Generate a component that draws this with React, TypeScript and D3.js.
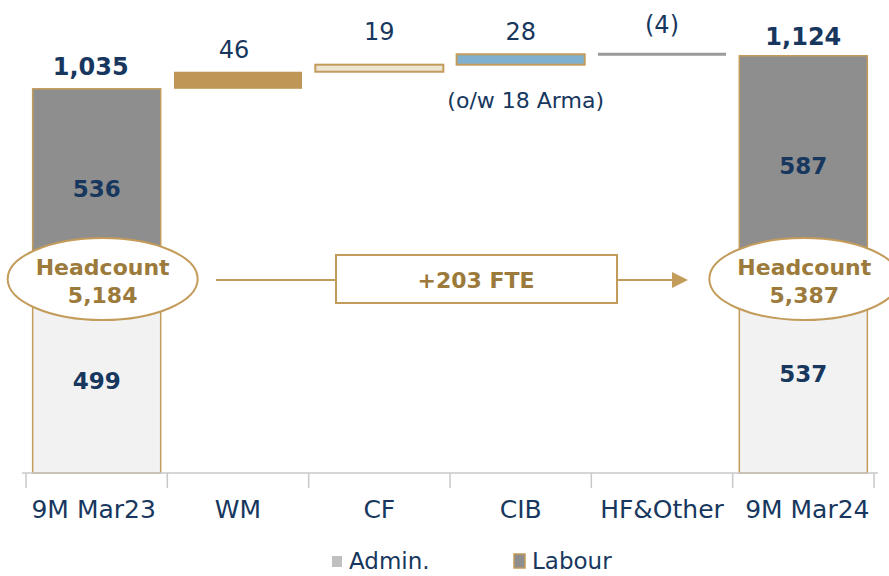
import React from "react";
import * as d3 from "d3";

const categories = ["9M Mar23", "WM", "CF", "CIB", "HF&Other", "9M Mar24"];
const adminValues = [499, 0, 0, 0, 0, 537];
const labourValues = [536, 0, 0, 0, 0, 587];
const deltaValues = [0, 46, 19, 28, -4, 0];
const totalLabels = ["1,035", "46", "19", "28", "(4)", "1,124"];
const headcountStart = "5,184";
const headcountEnd = "5,387";
const fteLabel = "+203 FTE";
const cibNote = "(o/w 18 Arma)";
const legendItems = ["Admin.", "Labour"];

const W = 889;
const H = 576;
const NAVY = "#17375e";
const GOLD = "#c39b5a";
const GOLD_TEXT = "#9b7a3b";
const FONT = "'DejaVu Sans', sans-serif";

export default function App() {
  const x = d3.scaleBand<string>().domain(categories).range([26, 874]).paddingInner(0.094).paddingOuter(0.047);
  const y = d3.scaleLinear().domain([0, 1250]).range([473, 9]);
  const bw = x.bandwidth();
  const step = x.step();

  let running = adminValues[0] + labourValues[0];
  const deltas = deltaValues.map((d, i) => {
    if (i === 0 || i === categories.length - 1) return null;
    const start = running;
    running += d;
    return { start, end: running, d, i };
  });

  const deltaFill = [null, "#bf9656", "#ebe5d2", "#7fb0cf", "#9a9a9a", null];
  const labelLift = [0, 0, 11, 0, 7, -3];
  const labelShift = [-6, -4, 0, 0, 0, 0];

  const cx = (i: number) => (x(categories[i]) as number) + bw / 2;
  const tickXs = categories.map((c) => (x(c) as number) - (step - bw) / 2).concat([874]);
  const yMid = 280;

  return (
    <svg width={W} height={H} style={{ position: "absolute", left: 0, top: 0 }} fontFamily={FONT}>
      <rect width={W} height={H} fill="#fff" />
      {[0, categories.length - 1].map((i) => {
        const a = adminValues[i];
        const l = labourValues[i];
        const x0 = x(categories[i]) as number;
        return (
          <g key={"t" + i}>
            <rect x={x0} y={y(a)} width={bw} height={y(0) - y(a)} fill="#f2f2f2" stroke={GOLD} strokeWidth={1.5} />
            <rect x={x0} y={y(a + l)} width={bw} height={y(a) - y(a + l)} fill="#8e8e8e" stroke={GOLD} strokeWidth={1.5} />
            <text x={cx(i)} y={(y(a + l) + y(a)) / 2 + 9} textAnchor="middle" fontSize={23} fontWeight="bold" fill={NAVY}>{l}</text>
            <text x={cx(i)} y={(y(a) + y(0)) / 2 + 9} textAnchor="middle" fontSize={23} fontWeight="bold" fill={NAVY}>{a}</text>
            <text x={cx(i) + labelShift[i]} y={y(a + l) - 14 - labelLift[i]} textAnchor="middle" fontSize={24} fontWeight="bold" fill={NAVY}>{totalLabels[i]}</text>
          </g>
        );
      })}
      {deltas.map((dd) => {
        if (!dd) return null;
        const x0 = x(categories[dd.i]) as number;
        const top = Math.max(dd.start, dd.end);
        const bot = Math.min(dd.start, dd.end);
        const isNeg = dd.d < 0;
        return (
          <g key={"d" + dd.i}>
            {isNeg ? (
              <line x1={x0} x2={x0 + bw} y1={y(top)} y2={y(top)} stroke={deltaFill[dd.i] as string} strokeWidth={3} />
            ) : (
              <rect x={x0} y={y(top)} width={bw} height={y(bot) - y(top)} fill={deltaFill[dd.i] as string} stroke={GOLD} strokeWidth={dd.i === 1 ? 0 : 2} />
            )}
            <text x={cx(dd.i) + labelShift[dd.i]} y={y(top) - 14 - labelLift[dd.i]} textAnchor="middle" fontSize={24} fill={NAVY}>{totalLabels[dd.i]}</text>
          </g>
        );
      })}
      <text x={cx(3) + 5} y={108} textAnchor="middle" fontSize={22} fill={NAVY}>{cibNote}</text>

      <line x1={tickXs[0] - 4} x2={tickXs[tickXs.length - 1] + 4} y1={y(0)} y2={y(0)} stroke="#c8c8c8" strokeWidth={1.5} />
      {tickXs.map((t, i) => (
        <line key={"tk" + i} x1={t} x2={t} y1={y(0)} y2={y(0) + 15} stroke="#c8c8c8" strokeWidth={1.5} />
      ))}
      {categories.map((c, i) => (
        <text key={c} x={cx(i) - (i === 0 ? 3 : i === 5 ? -4 : 0)} y={518} textAnchor="middle" fontSize={25} fill={NAVY}>{c}</text>
      ))}

      <line x1={216} x2={336} y1={yMid} y2={yMid} stroke={GOLD} strokeWidth={2} />
      <rect x={336} y={255} width={281} height={48} fill="#fff" stroke={GOLD} strokeWidth={2} />
      <text x={476} y={288} textAnchor="middle" fontSize={22} fontWeight="bold" fill={GOLD_TEXT}>{fteLabel}</text>
      <line x1={617} x2={674} y1={yMid} y2={yMid} stroke={GOLD} strokeWidth={2} />
      <path d={`M672,${yMid - 8} L688,${yMid} L672,${yMid + 8} Z`} fill={GOLD} />
      {[{ c: cx(0) + 6, v: headcountStart }, { c: cx(5) + 1, v: headcountEnd }].map((e, i) => (
        <g key={"e" + i}>
          <ellipse cx={e.c} cy={yMid - 1} rx={95} ry={41} fill="#fff" stroke={GOLD} strokeWidth={2} />
          <text x={e.c} y={275} textAnchor="middle" fontSize={22} fontWeight="bold" fill={GOLD_TEXT}>Headcount</text>
          <text x={e.c} y={303} textAnchor="middle" fontSize={22} fontWeight="bold" fill={GOLD_TEXT}>{e.v}</text>
        </g>
      ))}

      <rect x={332} y={556} width={10} height={11} fill="#c0c0c0" />
      <text x={349} y={569} fontSize={23} fill={NAVY}>{legendItems[0]}</text>
      <rect x={514} y={554} width={11} height={14} fill="#8e8e8e" stroke={GOLD} strokeWidth={1.5} />
      <text x={532} y={569} fontSize={23} fill={NAVY}>{legendItems[1]}</text>
    </svg>
  );
}
